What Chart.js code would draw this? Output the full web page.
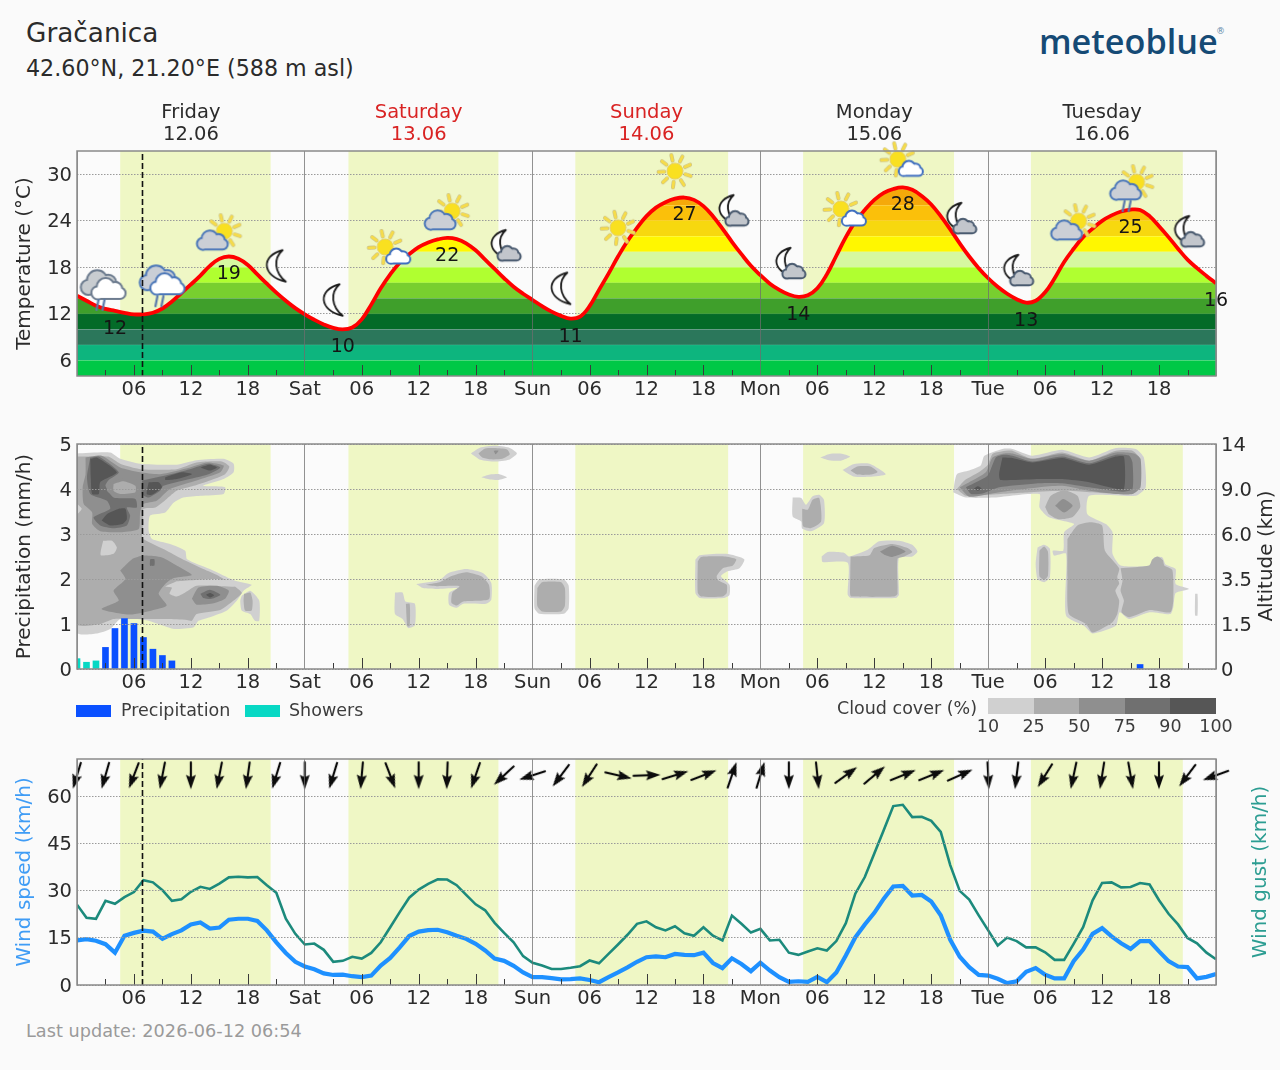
<!DOCTYPE html>
<html>
<head>
<meta charset="utf-8">
<title>Gračanica</title>
<script src="https://cdn.jsdelivr.net/npm/chart.js@4/dist/chart.umd.min.js"></script>
<style>
  html, body { margin: 0; padding: 0; background: #fafafa; }
  body { position: relative; width: 1280px; height: 1070px; overflow: hidden; font-family: "DejaVu Sans", sans-serif; color: #2b2b2b; }
  canvas { position: absolute; left: 0; }
  .txt { position: absolute; white-space: nowrap; line-height: 1; }
  .vtitle { position: absolute; white-space: nowrap; font-size: 20px; line-height: 1; transform: translate(-50%, -50%) rotate(-90deg); }
  .swatch { position: absolute; }
  .tick { position: absolute; font-size: 17.5px; line-height: 1; transform: translateX(-50%); color: #3c3c3c; }
</style>
</head>
<body>
<div class="txt" style="left:26px;top:20px;font-size:26.3px">Gračanica</div>
<div class="txt" style="left:26px;top:57px;font-size:22.2px">42.60°N, 21.20°E (588 m asl)</div>
<div class="txt" style="left:1039px;top:17px;font:600 34.2px 'Open Sans',sans-serif;color:#154a75">meteoblue</div>
<div class="txt" style="left:1216px;top:27px;font-size:9px;color:#5b87a8">®</div>

<canvas id="tempChart" style="top:90px" width="1280" height="320"></canvas>
<canvas id="rainChart" style="top:410px" width="1280" height="295"></canvas>
<canvas id="windChart" style="top:730px" width="1280" height="285"></canvas>

<div class="swatch" style="left:76px;top:705px;width:35px;height:12px;background:#0a50ff"></div>
<div class="txt" style="left:121px;top:702px;font-size:17.5px;color:#3c3c3c">Precipitation</div>
<div class="swatch" style="left:245px;top:705px;width:35px;height:12px;background:#07d8c4"></div>
<div class="txt" style="left:289px;top:702px;font-size:17.5px;color:#3c3c3c">Showers</div>

<div class="txt" style="right:303px;top:700px;font-size:17.5px;color:#3c3c3c">Cloud cover (%)</div>
<div id="cloudBar"></div>

<div class="vtitle" style="left:1265px;top:556px">Altitude (km)</div>
<div class="vtitle" style="left:1259px;top:872px;color:#2c9d92">Wind gust (km/h)</div>
<div class="txt" style="left:26px;top:1023px;font-size:17.7px;color:#9a9a9a">Last update: 2026-06-12 06:54</div>

<script>
// hours run from Friday 00:00 to Wednesday 00:00, one value per hour
const hours = Array.from({ length: 121 }, (_, i) => i);
const nowHour = 6.9;
const sunrise = [4.55, 28.6, 52.5, 76.5, 100.5];
const sunset = [20.4, 44.4, 68.6, 92.4, 116.5];

const dayNames = ["Friday", "Saturday", "Sunday", "Monday", "Tuesday"];
const dayDates = ["12.06", "13.06", "14.06", "15.06", "16.06"];
const dayColors = ["#2b2b2b", "#d92323", "#d92323", "#2b2b2b", "#2b2b2b"];
const dayCentres = [12, 36, 60, 84, 108];
const dayShort = ["", "Sat", "Sun", "Mon", "Tue", ""];

// Temperature
const temperature = [
  14.35, 13.7, 13.05, 12.65, 12.4, 12.15, 11.95, 11.95, 12.15, 12.7, 13.6, 14.7,
  15.8, 16.95, 18.2, 19.1, 19.4, 19.1, 18.3, 17.1, 15.9, 14.75, 13.7, 12.75,
  11.95, 11.25, 10.65, 10.2, 10.0, 10.25, 11.3, 13.2, 15.3, 17.1, 18.6, 19.7,
  20.6, 21.2, 21.6, 21.8, 21.65, 21.1, 20.2, 19.0, 17.8, 16.6, 15.5, 14.6,
  13.8, 13.0, 12.3, 11.75, 11.4, 11.65, 13.0, 15.1, 17.2, 19.4, 21.4, 23.1,
  24.6, 25.7, 26.4, 26.85, 27.0, 26.7, 25.9, 24.6, 23.0, 21.3, 19.7, 18.2,
  17.0, 15.9, 15.1, 14.5, 14.2, 14.4, 15.3, 17.1, 19.5, 21.9, 23.9, 25.4,
  26.7, 27.6, 28.1, 28.3, 28.0, 27.2, 26.1, 24.6, 22.9, 21.1, 19.4, 17.9,
  16.6, 15.5, 14.6, 13.9, 13.45, 13.7, 14.8, 16.6, 18.7, 20.4, 21.9, 23.0,
  24.0, 24.7, 25.2, 25.45, 25.4, 24.6, 23.3, 21.9, 20.4, 19.0, 17.9, 16.9,
  15.95,
];
const tempTicks = [6, 12, 18, 24, 30];
const tempLabelHours = [4, 16, 28, 39, 52, 64, 76, 87, 100, 111, 120];
const tempBandEdges = [4, 6, 8, 10, 12, 14, 16, 18, 20, 22, 24, 26, 28, 33];
const tempBandColors = [
  "#00c846", "#0db57e", "#2b775b", "#046b28", "#3f9f2b", "#78cf2f", "#b0ff30",
  "#d6f8a0", "#fff700", "#f7d80f", "#fbc00a", "#f5a90a", "#f09000",
];

// Weather symbols, every six hours
const iconHours = [3, 9, 15, 21, 27, 33, 39, 45, 51, 57, 63, 69, 75, 81, 87, 93, 99, 105, 111, 117];
const iconLevels = [15.1, 15.7, 22.4, 18.2, 13.8, 20.5, 25, 20.6, 15.3, 23.1, 30.4, 25.1, 18.3, 25.4, 31.8, 24.1, 17.4, 23.7, 28.6, 22.4];
const iconKinds = [
  "rainDark", "rainBlue", "sunGray", "moon", "moon", "sunWhite", "sunGray", "moonCloud", "moon", "sun",
  "sun", "moonCloud", "moonCloud", "sunWhite", "sunWhite", "moonCloud", "moonCloud", "sunGray", "sunGrayRain", "moonCloud",
];

// Precipitation
const rainTicks = [0, 1, 2, 3, 4, 5];
const altitudeLabels = ["0", "1.5", "3.5", "6.0", "9.0", "14"];
const showerHours = [0, 1, 2];
const showerValues = [0.23, 0.15, 0.18];
const precipHours = [3, 4, 5, 6, 7, 8, 9, 10, 112];
const precipValues = [0.48, 0.9, 1.12, 1.01, 0.7, 0.44, 0.3, 0.18, 0.1];

// Cloud cover classes, outlines given as [hour, altitude step]
const cloudColors = ["#d0d0d0", "#adadad", "#8f8f8f", "#707070", "#565656"];
const cloudClassNames = ["10", "25", "50", "75", "90", "100"];

const friLow10 = [[0,4.79],[3.5,4.81],[4.55,4.67],[6.65,4.56],[10.5,4.54],[12.6,4.64],[15.45,4.67],[16.5,4.56],[16.5,4.37],[15.45,4.22],[13.3,4.07],[15.6,4.04],[15.45,3.89],[13,3.85],[11.2,3.81],[10.2,3.70],[9.3,3.48],[7.7,3.41],[7.55,3.07],[7.9,2.89],[9.8,2.78],[11.4,2.63],[11.6,2.44],[14,2.22],[15.8,2.04],[16.85,1.95],[18.4,1.87],[17.55,1.74],[16.85,1.52],[15.8,1.30],[14,1.15],[12.8,1.07],[12.3,0.93],[10.2,0.89],[9.1,0.96],[7.55,1.07],[6.3,1.11],[4.55,1.11],[3.5,0.89],[2.1,0.79],[0,0.81]];
const friSmall10 = [[17.35,1.63],[18.25,1.74],[19.2,1.52],[19.2,1.07],[18.75,1.07],[18.25,1.22],[17.35,1.30],[17.2,1.52]];
const friSmall25 = [[17.6,1.67],[18.25,1.70],[18.5,1.52],[18.4,1.30],[17.7,1.30],[17.55,1.52]];
const friBody25 = [[0,4.72],[3.3,4.72],[4.55,4.56],[6.65,4.44],[10.5,4.44],[12.6,4.59],[15.25,4.61],[16.05,4.50],[15.6,4.33],[14,4.19],[12.3,4.07],[10.5,3.96],[9.45,3.78],[8.25,3.59],[7,3.56],[7,3.22],[6.85,3.00],[7,2.89],[9.45,2.63],[11.4,2.41],[13.3,2.22],[14.9,2.07],[17.35,1.70],[16.5,1.52],[15.1,1.31],[12.6,1.22],[12.1,1.07],[11.6,1.09],[9.45,1.11],[8.05,1.11],[5.8,1.11],[3.85,1.11],[2.45,1.00],[0,1.00]];
const friGap10 = [[10.5,1.95],[14.75,2.0],[17.55,1.90],[16.5,1.83],[12.6,1.85],[11.4,1.70],[10.5,1.61],[9.75,1.67],[10,1.81],[9.3,1.83]];
const friPatch10 = [[2.75,2.85],[3.7,2.85],[4.2,2.70],[3.85,2.56],[2.5,2.53]];
const friEdge10 = [[0,3.67],[0.5,3.56],[0,3.44]];
const friLow50 = [[4.55,2.19],[5.8,2.44],[7,2.52],[8.95,2.48],[10.5,2.30],[12.1,2.09],[10.2,2.02],[9.3,1.89],[8.6,1.67],[9.45,1.41],[7.9,1.30],[5.6,1.21],[2.6,1.33],[4.4,1.52],[3.85,1.74],[5.1,2.00]];
const friSpot75 = [[7.7,2.44],[8.15,2.44],[8.15,2.30],[7.7,2.30]];
const friCore50 = [[12.1,1.56],[12.8,1.81],[14.75,1.85],[16,1.74],[15.6,1.56],[14.4,1.46],[12.6,1.43]];
const friCore75 = [[13,1.67],[14,1.76],[15.1,1.65],[14.2,1.56],[13.3,1.58]];
const friCore90 = [[13.6,1.65],[14,1.69],[14.45,1.64],[14,1.59]];
const friHigh50 = [[0.9,4.70],[2.6,4.74],[4.55,4.48],[6.65,4.37],[8.75,4.33],[11.9,4.48],[13.7,4.59],[15.45,4.52],[15.1,4.37],[12.6,4.19],[9.8,4.00],[8.4,3.74],[7,3.67],[6.65,3.48],[6.5,3.11],[4.75,3.04],[2.45,3.06],[1.6,3.22],[1.6,3.48],[0.7,3.67],[0.6,4.04],[0.9,4.33]];
const friHighLeft75 = [[1.4,4.70],[2.3,4.72],[4.4,4.37],[3.3,4.19],[3,4.07],[3.85,3.81],[6.15,3.78],[6.3,3.59],[5.25,3.59],[5.6,3.41],[5.25,3.19],[3.85,3.13],[2.45,3.19],[1.75,3.37],[3.5,3.56],[3.15,3.74],[1.4,3.89],[1.05,4.26]];
const friHighRight75 = [[6.85,4.19],[9.3,4.30],[11.9,4.44],[13.85,4.56],[15.1,4.48],[13.85,4.33],[11.2,4.19],[9.1,4.07],[8.75,3.96],[7.55,3.81],[6.85,3.89]];
const friHole50 = [[3.3,4.11],[4.55,4.22],[6.65,4.19],[6.65,3.89],[6,3.83],[3.85,3.85],[3.15,3.96]];
const friHole25 = [[3.85,4.11],[4.9,4.17],[6.15,4.07],[6.15,3.93],[4.55,3.89],[3.85,3.96]];
const friDarkA90 = [[1.4,4.67],[2.1,4.70],[4.2,4.37],[2.45,4.15],[2.3,3.89],[1.6,3.89],[1.45,4.26]];
const friDarkB90 = [[9.3,4.26],[11.05,4.37],[12.1,4.33],[10.5,4.22],[9.3,4.20]];
const friDarkC90 = [[7.55,4.15],[8.6,4.15],[8.95,4.04],[7.9,3.87],[7.35,3.89]];
const friDarkD90 = [[13,4.48],[14,4.54],[14.75,4.48],[14,4.41]];
const friDarkE90 = [[2.6,3.30],[3.15,3.44],[4.4,3.56],[5.1,3.56],[5.25,3.33],[4.75,3.22],[3.5,3.19]];

const satTop10 = [[41.5,4.79],[42.5,4.92],[44,4.96],[45.5,4.92],[46.35,4.79],[45.5,4.65],[44,4.61],[42.5,4.65]];
const satTop25 = [[42.3,4.79],[43,4.90],[44,4.91],[45.3,4.88],[45.6,4.77],[44.8,4.67],[43.5,4.66],[42.7,4.70]];
const satTop50 = [[43.9,4.85],[44.4,4.85],[44.1,4.77]];
const satWisp10 = [[42.6,4.26],[43.5,4.32],[44.5,4.33],[45.3,4.26],[44.4,4.20],[43.5,4.21]];
const satStrip10 = [[33.5,1.70],[34.3,1.70],[34.6,1.50],[35.6,1.45],[35.6,0.97],[34.9,0.91],[34.3,1.11],[33.5,1.22]];
const satStrip25 = [[34.65,1.45],[35.05,1.45],[35.05,0.95],[34.8,0.95]];
const satBlob10 = [[35.75,1.89],[38.2,1.98],[39.1,2.13],[41,2.22],[42.8,2.13],[43.65,1.91],[43.65,1.54],[43.1,1.45],[40.7,1.45],[40,1.36],[39.2,1.43],[39.2,1.69],[40.1,1.80],[37.9,1.78],[36.45,1.80]];
const satBlob25 = [[36.6,1.87],[38.2,1.93],[39.4,2.06],[41,2.15],[42.6,2.06],[43.4,1.87],[43.4,1.55],[40.7,1.50],[40,1.41],[39.45,1.47],[39.55,1.70],[40.3,1.84],[37.9,1.84]];
const sunSquare10 = [[48.2,1.85],[48.7,1.99],[51.3,1.99],[51.8,1.85],[51.8,1.35],[51.3,1.23],[48.7,1.23],[48.2,1.35]];
const sunSquare25 = [[48.5,1.8],[49,1.93],[51,1.93],[51.4,1.8],[51.4,1.4],[51,1.28],[49,1.28],[48.5,1.4]];
const sunBlob10 = [[65.15,2.43],[65.6,2.53],[68.4,2.56],[70.3,2.44],[69.8,2.24],[68.55,2.17],[67.85,2.06],[68.75,1.87],[68.75,1.65],[68.2,1.58],[65.6,1.58],[65.15,1.69]];
const sunBlob25 = [[65.4,2.39],[65.75,2.49],[68.2,2.50],[69.45,2.44],[69.1,2.30],[68.05,2.24],[67.4,2.07],[67.5,1.98],[68.45,1.87],[68.45,1.69],[68,1.61],[65.75,1.61],[65.4,1.70]];

const monWisp10 = [[78.3,4.70],[79.3,4.78],[80.7,4.78],[81.45,4.72],[80.5,4.63],[79.2,4.64]];
const monOval10 = [[80.65,4.42],[81.8,4.55],[83.5,4.56],[85.2,4.33],[83.5,4.27],[81.8,4.28]];
const monOval25 = [[81.5,4.41],[82.2,4.50],[83.6,4.50],[84.35,4.38],[83.6,4.32],[82.2,4.32]];
const monFork10 = [[75.4,3.81],[76.3,3.80],[76.8,3.65],[77.5,3.84],[78.2,3.87],[78.7,3.76],[78.7,3.24],[77.3,3.06],[76.4,3.12],[76.3,3.28],[75.4,3.39]];
const monFork25 = [[76.4,3.56],[77,3.54],[77.5,3.76],[78.2,3.80],[78.4,3.28],[77.3,3.13],[76.5,3.17]];
const monBox10 = [[78.45,2.5],[79.1,2.6],[80.85,2.58],[81.35,2.5],[83.3,2.65],[84.5,2.84],[86.6,2.85],[88,2.76],[88.55,2.61],[88,2.5],[86.6,2.47],[86.6,1.65],[86.3,1.58],[81.5,1.58],[81.2,1.65],[81.2,2.36],[78.55,2.38]];
const monBox25 = [[81.5,2.50],[83.5,2.53],[84,2.69],[85.9,2.78],[87.5,2.69],[88,2.6],[87.15,2.5],[86.45,2.45],[86.45,1.67],[86.1,1.61],[81.55,1.61],[81.45,1.67]];
const monBox50 = [[84.6,2.61],[85.9,2.74],[87.3,2.61],[85.9,2.49],[85.05,2.54]];

const tueBody10 = [[92.3,3.93],[92.7,4.33],[94,4.41],[95.2,4.52],[95.6,4.74],[97.5,4.89],[98.55,4.89],[100.65,4.74],[103.8,4.87],[106.65,4.70],[109.45,4.91],[111.55,4.89],[112.4,4.70],[112.6,4.04],[111.55,3.85],[106.65,3.85],[106.45,3.44],[108.4,3.22],[109.1,3.04],[109.1,2.56],[109.95,2.30],[113.1,2.30],[113.5,2.48],[114.35,2.48],[114.7,2.32],[115.75,2.22],[115.75,1.89],[117.15,1.78],[115.75,1.69],[115.5,1.37],[115.2,1.22],[113,1.26],[110.85,1.11],[109.85,1.26],[109.45,0.96],[107,0.79],[106.1,0.96],[104.2,1.19],[104.2,2.56],[102.95,2.52],[102.8,2.63],[103.9,2.63],[104,3.04],[105.05,3.22],[102.4,3.37],[101.4,3.59],[101.4,3.89],[96.45,3.81],[93.65,3.81]];
const tueStrip10 = [[101.2,2.70],[101.9,2.76],[102.5,2.67],[102.5,2.04],[101.9,1.93],[101.2,2.0],[101,2.33]];
const tueStrip25 = [[101.4,2.63],[101.9,2.72],[102.3,2.60],[102.3,2.08],[101.9,1.98],[101.4,2.06]];
const tueSliver10 = [[117.8,1.67],[118.05,1.67],[118.05,1.19],[117.8,1.19]];
const tueHigh25 = [[92.7,4.0],[93.5,4.19],[95,4.37],[95.9,4.52],[96.45,4.78],[97.5,4.84],[98.55,4.85],[100.65,4.67],[103.8,4.81],[106.65,4.63],[109.45,4.85],[111.2,4.85],[112,4.67],[112,4.07],[111,3.90],[106.65,3.93],[104,3.96],[100.5,3.93],[96.45,3.88],[93.65,3.85]];
const tueHigh50 = [[93,4.04],[94,4.15],[95.75,4.37],[96.45,4.70],[97.65,4.79],[98.55,4.79],[100.65,4.67],[103.8,4.78],[106.65,4.63],[109.45,4.81],[111.35,4.79],[112.05,4.67],[112.05,4.04],[111.2,3.89],[109.45,3.89],[106.65,3.96],[103.8,4.07],[101.4,4.04],[97.15,3.93],[94,3.83]];
const tueHigh75 = [[93.65,4.04],[94.35,4.11],[95.95,4.30],[96.8,4.70],[97.65,4.76],[98.55,4.74],[100.65,4.61],[103.8,4.72],[106.65,4.57],[109.45,4.76],[110.85,4.74],[111.2,4.59],[111.2,4.0],[110.15,3.94],[106.65,4.04],[103.8,4.13],[101.4,4.13],[97.15,4.04],[95.4,3.9],[94.2,3.89]];
const tueHigh90 = [[97.5,4.70],[98.55,4.69],[100.65,4.59],[103.8,4.69],[106.65,4.54],[109.45,4.72],[110.3,4.72],[110.3,4.0],[108.75,4.04],[106.65,4.15],[103.8,4.22],[101.4,4.22],[97.3,4.2],[97.15,4.33]];
const tueDot90 = [[94.5,4.01],[94.9,4.06],[95.3,4.01],[94.9,3.96]];
const tueOval25 = [[102,3.6],[102.6,3.85],[104,3.97],[105.4,3.85],[105.7,3.6],[104.9,3.38],[103.4,3.33],[102.4,3.44]];
const tueOval50 = [[103.05,3.63],[103.9,3.78],[104.9,3.63],[104,3.48]];
const tueLobeA25 = [[104.35,2.89],[105.4,3.19],[106.8,3.26],[108,3.19],[108.3,2.63],[109.8,2.24],[109.6,2.04],[109.8,1.9],[109.4,1.74],[109.8,1.52],[109.6,1.22],[109.1,1.04],[107,0.81],[106.3,1.0],[104.5,1.22],[104.35,2.04]];
const tueLobeB25 = [[109.95,2.24],[112.95,2.30],[113.3,2.44],[113.85,2.5],[114.4,2.42],[114.55,2.30],[115.4,2.2],[115.5,1.52],[115.2,1.26],[113,1.31],[110.85,1.15],[110.05,1.26],[110.3,1.52],[109.95,1.74],[110.15,1.96]];

// painted in this order, lighter holes go after the darker area around them
const cloudShapes = [
  [0, friLow10], [0, friSmall10], [1, friSmall25], [1, friBody25], [0, friGap10], [0, friPatch10], [0, friEdge10],
  [2, friLow50], [3, friSpot75], [2, friCore50], [3, friCore75], [4, friCore90],
  [2, friHigh50], [3, friHighLeft75], [3, friHighRight75], [2, friHole50], [1, friHole25],
  [4, friDarkA90], [4, friDarkB90], [4, friDarkC90], [4, friDarkD90], [4, friDarkE90],
  [0, satTop10], [1, satTop25], [2, satTop50], [0, satWisp10], [0, satStrip10], [1, satStrip25], [0, satBlob10], [1, satBlob25],
  [0, sunSquare10], [1, sunSquare25], [0, sunBlob10], [1, sunBlob25],
  [0, monWisp10], [0, monOval10], [1, monOval25], [0, monFork10], [1, monFork25], [0, monBox10], [1, monBox25], [2, monBox50],
  [0, tueBody10], [0, tueStrip10], [1, tueStrip25], [0, tueSliver10], [1, tueHigh25], [2, tueHigh50], [3, tueHigh75], [4, tueHigh90], [4, tueDot90],
  [1, tueOval25], [2, tueOval50], [1, tueLobeA25], [1, tueLobeB25],
];

// Wind
const windTicks = [0, 15, 30, 45, 60];
const windSpeed = [
  14.2, 14.6, 14.1, 13, 10.3, 15.7, 16.6, 17.3, 17, 14.7, 16.2, 17.4,
  19.3, 19.9, 18, 18.3, 20.8, 21.1, 21.1, 20.4, 17.4, 13.6, 10.2, 7.4,
  5.9, 5, 3.7, 3.2, 3.3, 2.8, 2.5, 3, 6.2, 8.6, 12, 15.6,
  17, 17.5, 17.6, 16.8, 15.7, 14.7, 13.1, 11, 8.4, 7.7, 6.1, 4,
  2.5, 2.5, 2.2, 1.8, 1.9, 2.1, 1.6, 0.9, 2.5, 4, 5.6, 7.4,
  8.85, 9.1, 8.85, 9.9, 9.6, 9.5, 10.3, 7, 5.4, 8.5, 6.7, 4.4,
  7.1, 4.6, 2.5, 1, 1.2, 1, 2.6, 0.9, 4, 9.4, 15.2, 19.3,
  23, 27.5, 31.4, 31.6, 28.5, 28.7, 26.6, 22.2, 14.4, 9, 5.7, 3.2,
  3, 2, 0.6, 1.2, 4.2, 5.4, 3.3, 2.1, 2.1, 7.6, 11.3, 16.3,
  18.1, 15.5, 13.3, 11.5, 14, 14, 10.7, 7.6, 5.9, 5.7, 2.1, 2.6,
  3.5,
];
const windGust = [
  25.6, 21.4, 21.1, 26.8, 25.9, 28, 29.6, 33.4, 32.7, 30.2, 26.8, 27.3,
  29.7, 31.3, 30.6, 32.3, 34.3, 34.5, 34.3, 34.4, 31.8, 29.4, 21.1, 16.3,
  12.9, 13.2, 11.2, 7.4, 7.7, 9, 8.4, 10.2, 13.6, 18.4, 23.2, 27.8,
  30.4, 32.2, 33.7, 33.6, 31.8, 28.7, 25.7, 23.8, 19.8, 16.6, 13.6, 9.2,
  7.1, 6.2, 5.1, 5.1, 5.5, 6, 7.8, 6.9, 9.9, 12.9, 16, 19.5,
  20.3, 18.4, 17.4, 18.7, 16.5, 15.7, 18.4, 15.7, 14.2, 22.1, 19.5, 16.7,
  17.9, 14.2, 14.4, 10.3, 9.6, 10.7, 11.7, 11, 14, 19.7, 29.1, 34.4,
  41.9, 49.4, 57, 57.4, 53.5, 53.6, 52.3, 48.8, 38.2, 30, 27.2, 22.2,
  17.4, 12.6, 15.1, 14, 12, 12, 10.4, 8, 8, 13.1, 18.4, 27,
  32.5, 32.7, 31.1, 31.2, 32.5, 32, 27, 22.7, 19.3, 15, 13.3, 10.3,
  8.2,
];
const arrowHours = [0, 3, 6, 9, 12, 15, 18, 21, 24, 27, 30, 33, 36, 39, 42, 45, 48, 51, 54, 57, 60, 63, 66, 69, 72, 75, 78, 81, 84, 87, 90, 93, 96, 99, 102, 105, 108, 111, 114, 117, 120];
// direction each arrow points to, degrees clockwise from up
const arrowHeadings = [197, 196, 201, 191, 180, 191, 188, 197, 180, 197, 185, 159, 180, 182, 199, 227, 252, 217, 213, 103, 88, 73, 69, 19, 17, 180, 174, 54, 50, 68, 68, 66, 177, 187, 212, 192, 189, 170, 180, 217, 250];
const arrowLevel = 66.8;

const tickFont = { family: "'DejaVu Sans'", size: 19.5 };
const titleFont = { family: "'DejaVu Sans'", size: 20 };
const textColor = "#2b2b2b";

// small offscreen sprites used as point styles
function sprite(w, h, draw) {
  const cv = document.createElement("canvas");
  cv.width = w;
  cv.height = h;
  const c = cv.getContext("2d");
  c.lineCap = "round";
  c.lineJoin = "round";
  draw(c);
  return cv;
}

function drawSun(c, x, y, r) {
  for (let i = 0; i < 9; i++) {
    const a = (i / 9) * Math.PI * 2 + 0.3;
    c.beginPath();
    c.moveTo(x + Math.cos(a) * r * 1.35, y + Math.sin(a) * r * 1.35);
    c.lineTo(x + Math.cos(a) * r * 2.05, y + Math.sin(a) * r * 2.05);
    c.strokeStyle = "#c9c08a";
    c.lineWidth = 4;
    c.stroke();
    c.strokeStyle = "#f6dc4a";
    c.lineWidth = 2.8;
    c.stroke();
  }
  c.beginPath();
  c.arc(x, y, r, 0, Math.PI * 2);
  c.fillStyle = "#f9e020";
  c.fill();
  c.strokeStyle = "#e6cf62";
  c.lineWidth = 1;
  c.stroke();
}

function drawCloud(c, x, y, s, fill, edge) {
  const lobes = [[-11, 3, 6], [-3, -3, 8.5], [7, -1, 6.5], [12, 3.5, 5]];
  c.beginPath();
  lobes.forEach(([lx, ly, r]) => {
    c.moveTo(x + (lx + r) * s, y + ly * s);
    c.arc(x + lx * s, y + ly * s, r * s, 0, Math.PI * 2);
  });
  c.rect(x - 11 * s, y, 23 * s, 8.5 * s);
  c.strokeStyle = edge;
  c.lineWidth = 4;
  c.stroke();
  c.fillStyle = fill;
  c.fill();
}

function drawMoon(c, x, y, s) {
  c.beginPath();
  c.moveTo(x + 5 * s, y - 15 * s);
  c.bezierCurveTo(x - 16 * s, y - 10 * s, x - 15 * s, y + 10 * s, x + 8 * s, y + 15 * s);
  c.bezierCurveTo(x - 3 * s, y + 6 * s, x - 4 * s, y - 7 * s, x + 5 * s, y - 15 * s);
  c.closePath();
  c.fillStyle = "#ffffff";
  c.fill();
  c.strokeStyle = "#1c1c1c";
  c.lineWidth = 1.8;
  c.stroke();
}

function drawRain(c, x, y) {
  c.strokeStyle = "#5878ab";
  c.lineWidth = 2.2;
  [0, 6].forEach((dx) => {
    c.beginPath();
    c.moveTo(x + dx + 2, y);
    c.lineTo(x + dx, y + 10);
    c.stroke();
  });
}

const iconSprites = {
  rainDark: sprite(60, 60, (c) => {
    drawCloud(c, 25, 24, 1.1, "#c8ccd0", "#6d7c8f");
    drawCloud(c, 33, 30, 0.95, "#ffffff", "#6d7c8f");
    drawRain(c, 21, 40);
  }),
  rainBlue: sprite(60, 60, (c) => {
    drawCloud(c, 27, 24, 1.1, "#c9ced6", "#4a76b8");
    drawCloud(c, 35, 30, 0.95, "#ffffff", "#4a76b8");
    drawRain(c, 23, 41);
  }),
  sunGray: sprite(60, 60, (c) => {
    drawSun(c, 35, 28, 8);
    drawCloud(c, 23, 38, 0.85, "#cbcfd6", "#4a76b8");
  }),
  sunGrayRain: sprite(60, 60, (c) => {
    drawSun(c, 36, 27, 8);
    drawCloud(c, 25, 36, 0.85, "#cbcfd6", "#4a76b8");
    drawRain(c, 22, 46);
  }),
  sunWhite: sprite(60, 60, (c) => {
    drawSun(c, 25, 29, 8);
    drawCloud(c, 38, 39, 0.65, "#ffffff", "#3f6fc0");
  }),
  sun: sprite(60, 60, (c) => drawSun(c, 30, 30, 8)),
  moon: sprite(60, 60, (c) => drawMoon(c, 31, 30, 1.05)),
  moonCloud: sprite(60, 60, (c) => {
    drawMoon(c, 27, 27, 0.95);
    drawCloud(c, 35, 37, 0.62, "#c2c6cc", "#48596e");
  }),
};

const arrowSprite = sprite(34, 34, (c) => {
  c.fillStyle = "#0c0c0c";
  c.strokeStyle = "#0c0c0c";
  c.lineWidth = 2.2;
  c.beginPath();
  c.moveTo(17, 30);
  c.lineTo(17, 12);
  c.stroke();
  c.beginPath();
  c.moveTo(17, 3);
  c.lineTo(22, 17.5);
  c.lineTo(17, 15);
  c.lineTo(12, 17.5);
  c.closePath();
  c.fill();
});

// hard colour steps with a thin lighter seam at each edge
function lighten(hex) {
  const n = parseInt(hex.slice(1), 16);
  const mix = (v) => Math.round(v + (255 - v) * 0.3);
  return `rgb(${mix(n >> 16)},${mix((n >> 8) & 255)},${mix(n & 255)})`;
}

function bandGradient(chart) {
  const y = chart.scales.y;
  const bottom = y.getPixelForValue(tempBandEdges[0]);
  const top = y.getPixelForValue(tempBandEdges[tempBandEdges.length - 1]);
  const g = chart.ctx.createLinearGradient(0, bottom, 0, top);
  const span = bottom - top;
  tempBandColors.forEach((color, i) => {
    const from = (bottom - y.getPixelForValue(tempBandEdges[i])) / span;
    const to = (bottom - y.getPixelForValue(tempBandEdges[i + 1])) / span;
    g.addColorStop(Math.min(1, from + 0.6 / span), color);
    g.addColorStop(Math.max(0, to - 0.6 / span), color);
    if (i < tempBandColors.length - 1) g.addColorStop(to, lighten(color));
  });
  return g;
}

// plot background and daylight columns, under everything else
const plotBackdrop = {
  id: "plotBackdrop",
  beforeDraw(chart) {
    const { ctx, chartArea: a, scales } = chart;
    ctx.save();
    ctx.fillStyle = "#fbfbfb";
    ctx.fillRect(a.left, a.top, a.width, a.height);
    ctx.fillStyle = "#eff7c5";
    sunrise.forEach((h, i) => {
      const x0 = scales.x.getPixelForValue(h);
      const x1 = scales.x.getPixelForValue(sunset[i]);
      ctx.fillRect(x0, a.top, x1 - x0, a.height);
    });
    ctx.restore();
    // middle baseline sits high for these digits, push the value labels down a little
    Object.values(scales).forEach((scale) => {
      if (scale.isHorizontal()) return;
      scale.getLabelItems().forEach((item) => {
        item.options.translation[1] += 1.5;
      });
    });
  },
};

// inward tick marks and the box round the plot
const plotFrame = {
  id: "plotFrame",
  afterDraw(chart) {
    const { ctx, chartArea: a, scales } = chart;
    ctx.save();
    ctx.strokeStyle = "#3a3a3a";
    ctx.lineWidth = 1;
    scales.x.ticks.forEach((t) => {
      if (t.value % 24 === 0) return;
      const len = t.value % 6 === 0 ? 11 : 6;
      const x = Math.round(scales.x.getPixelForValue(t.value)) + 0.5;
      ctx.beginPath();
      ctx.moveTo(x, a.bottom);
      ctx.lineTo(x, a.bottom - len);
      ctx.stroke();
    });
    ctx.strokeStyle = "#8a8a8a";
    ctx.lineWidth = 1.5;
    ctx.strokeRect(a.left, a.top, a.width, a.height);
    ctx.restore();
  },
};

// rounded temperature under the curve at each day's low and high
const tempLabels = {
  id: "tempLabels",
  afterDatasetsDraw(chart) {
    const { ctx, scales } = chart;
    ctx.save();
    ctx.font = "19px 'DejaVu Sans'";
    ctx.fillStyle = "#151515";
    ctx.textAlign = "center";
    ctx.textBaseline = "middle";
    tempLabelHours.forEach((h) => {
      const x = scales.x.getPixelForValue(h);
      const y = scales.y.getPixelForValue(temperature[h]);
      ctx.fillText(String(Math.round(temperature[h])), x, y + 18);
    });
    ctx.restore();
  },
};

function hourAxis(extra) {
  return {
    type: "linear",
    min: 0,
    max: 120,
    offset: false,
    grid: {
      offset: false,
      z: 1,
      drawTicks: false,
      color: (c) => (c.tick && c.tick.value % 24 === 0 ? "rgba(110,110,110,0.75)" : "rgba(0,0,0,0)"),
      lineWidth: 1,
    },
    border: { display: false },
    afterBuildTicks: (axis) => {
      axis.ticks = [];
      for (let h = 0; h <= 120; h += 3) axis.ticks.push({ value: h });
    },
    ticks: {
      autoSkip: false,
      maxRotation: 0,
      padding: 2,
      color: textColor,
      font: tickFont,
      callback: (v) => {
        if (v % 24 === 0) return dayShort[v / 24];
        return v % 6 === 0 ? String(v % 24).padStart(2, "0") : "";
      },
    },
    ...extra,
  };
}

function valueAxis(min, max, tickList, title, titleColor, gridZ) {
  return {
    min,
    max,
    afterFit: (axis) => {
      axis.width = 77;
    },
    afterBuildTicks: (axis) => {
      axis.ticks = tickList.map((value) => ({ value }));
    },
    title: { display: true, text: title, color: titleColor, font: titleFont, padding: { top: 13, bottom: 0 } },
    grid: { z: gridZ, color: "#9a9a9a", drawTicks: false, lineWidth: 1 },
    border: { display: false, dash: [1.5, 1.5] },
    ticks: { color: textColor, font: tickFont, padding: 5, autoSkip: false },
  };
}

function nowLine(min, max) {
  return {
    type: "scatter",
    showLine: true,
    order: 0,
    data: [{ x: nowHour, y: min }, { x: nowHour, y: max }],
    borderColor: "#111111",
    borderWidth: 1.6,
    borderDash: [6, 3],
    pointRadius: 0,
  };
}

function baseOptions(padding, scales) {
  return {
    responsive: false,
    animation: false,
    events: [],
    layout: { autoPadding: false, padding },
    plugins: { legend: { display: false }, tooltip: { enabled: false } },
    scales,
  };
}

const asPoints = (xs, ys) => xs.map((x, i) => ({ x, y: ys[i] }));

// Temperature Chart
new Chart(document.getElementById("tempChart"), {
  type: "line",
  data: {
    datasets: [
      {
        order: 3,
        data: asPoints(hours, temperature),
        borderColor: "#ff0000",
        borderWidth: 3.8,
        tension: 0.4,
        pointRadius: 0,
        fill: "start",
        backgroundColor: (c) => (c.chart.chartArea ? bandGradient(c.chart) : "transparent"),
      },
      {
        type: "scatter",
        order: 1,
        clip: false,
        data: asPoints(iconHours, iconLevels),
        pointRadius: 20,
        pointStyle: iconKinds.map((k) => iconSprites[k]),
      },
      nowLine(4, 33),
    ],
  },
  options: baseOptions({ top: 0, right: 64, bottom: 0, left: 0 }, {
    x: hourAxis({ afterFit: (axis) => { axis.height = 34; } }),
    xDay: {
      type: "linear",
      position: "top",
      min: 0,
      max: 120,
      grid: { display: false, drawTicks: false },
      border: { display: false },
      afterFit: (axis) => { axis.height = 61; },
      afterBuildTicks: (axis) => {
        axis.ticks = dayCentres.map((value) => ({ value }));
      },
      ticks: {
        autoSkip: false,
        maxRotation: 0,
        padding: 5,
        font: { ...tickFont, lineHeight: 1.12 },
        color: (c) => dayColors[c.index],
        callback: (v, i) => [dayNames[i], dayDates[i]],
      },
    },
    y: valueAxis(4, 33, tempTicks, "Temperature (°C)", textColor, 0),
  }),
  plugins: [plotBackdrop, tempLabels, plotFrame],
});

// Precipitation and cloud layers
new Chart(document.getElementById("rainChart"), {
  type: "bar",
  data: {
    datasets: [
      ...cloudShapes.map(([level, outline], i) => ({
        type: "scatter",
        showLine: true,
        order: 1000 - i,
        data: outline.concat([outline[0]]).map(([x, y]) => ({ x, y })),
        tension: 0.2,
        borderWidth: 0,
        pointRadius: 0,
        backgroundColor: cloudColors[level],
        fill: "shape",
      })),
      {
        type: "bar",
        label: "Showers",
        order: 2,
        grouped: false,
        data: asPoints(showerHours, showerValues),
        backgroundColor: "#07d8c4",
        barThickness: 6,
      },
      {
        type: "bar",
        label: "Precipitation",
        order: 2,
        grouped: false,
        data: asPoints(precipHours, precipValues),
        backgroundColor: "#0a50ff",
        barThickness: 6,
      },
      nowLine(0, 5),
    ],
  },
  options: baseOptions({ top: 34, right: 0, bottom: 0, left: 0 }, {
    x: hourAxis({ afterFit: (axis) => { axis.height = 36; } }),
    y: valueAxis(0, 5, rainTicks, "Precipitation (mm/h)", textColor, 1),
    yAlt: {
      position: "right",
      min: 0,
      max: 5,
      afterFit: (axis) => { axis.width = 64; },
      afterBuildTicks: (axis) => {
        axis.ticks = rainTicks.map((value) => ({ value }));
      },
      grid: { display: false, drawTicks: false },
      border: { display: false },
      ticks: { color: textColor, font: tickFont, padding: 5, autoSkip: false, callback: (v) => altitudeLabels[v] },
    },
  }),
  plugins: [plotBackdrop, plotFrame],
});

// Wind Chart
new Chart(document.getElementById("windChart"), {
  type: "line",
  data: {
    datasets: [
      {
        order: 4,
        data: asPoints(hours, windGust),
        borderColor: "#1c8a7c",
        borderWidth: 2.6,
        tension: 0,
        pointRadius: 0,
      },
      {
        order: 3,
        data: asPoints(hours, windSpeed),
        borderColor: "#1e90ff",
        borderWidth: 4.2,
        tension: 0,
        pointRadius: 0,
      },
      {
        type: "scatter",
        order: 1,
        clip: false,
        data: arrowHours.map((x) => ({ x, y: arrowLevel })),
        pointRadius: 15,
        pointStyle: arrowSprite,
        pointRotation: arrowHeadings,
      },
      nowLine(0, 72),
    ],
  },
  options: baseOptions({ top: 29, right: 64, bottom: 0, left: 0 }, {
    x: hourAxis({ afterFit: (axis) => { axis.height = 30; } }),
    y: valueAxis(0, 72, windTicks, "Wind speed (km/h)", "#3f9cf5", 1),
  }),
  plugins: [plotBackdrop, plotFrame],
});

// cloud cover colour key
const cloudBar = document.getElementById("cloudBar");
const keyLeft = 988;
const keyStep = 45.6;
cloudColors.forEach((color, i) => {
  const cell = document.createElement("div");
  cell.className = "swatch";
  cell.style.cssText = `left:${keyLeft + i * keyStep}px;top:698px;width:${keyStep}px;height:16px;background:${color}`;
  cloudBar.appendChild(cell);
});
cloudClassNames.forEach((name, i) => {
  const label = document.createElement("div");
  label.className = "tick";
  label.style.cssText = `left:${keyLeft + i * keyStep}px;top:718px`;
  label.textContent = name;
  cloudBar.appendChild(label);
});
</script>
</body>
</html>
